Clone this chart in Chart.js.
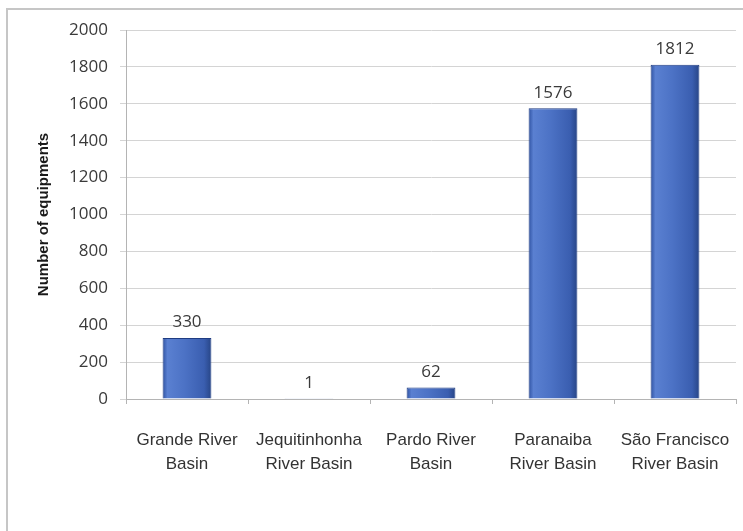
<!DOCTYPE html>
<html>
<head>
<meta charset="utf-8">
<style>
  html, body { margin: 0; padding: 0; background: #ffffff; }
  #wrap { position: relative; width: 743px; height: 531px; }
  canvas { display: block; }
</style>
<script src="https://cdn.jsdelivr.net/npm/chart.js@4.4.1/dist/chart.umd.min.js"></script>
</head>
<body>
<div id="wrap"><canvas id="c" width="743" height="531"></canvas></div>
<script>
// River basins and number of irrigation equipments in each
const basins = [
  ["Grande River", "Basin"],
  ["Jequitinhonha", "River Basin"],
  ["Pardo River", "Basin"],
  ["Paranaiba", "River Basin"],
  ["São Francisco", "River Basin"]
];
const equipments = [330, 1, 62, 1576, 1812];
const yTicks = [0, 200, 400, 600, 800, 1000, 1200, 1400, 1600, 1800, 2000];

const tickFont = { family: "'Open Sans', 'Liberation Sans', sans-serif", size: 17 };
const catFont = { family: "'Liberation Sans', Arial, sans-serif", size: 17, lineHeight: 1.42 };
const BAR_PCT = 0.4;

// Bar fill: shaded horizontally so each column looks rounded
function barFill(context) {
  const chart = context.chart;
  const xs = chart.scales && chart.scales.x;
  if (!xs || context.dataIndex === undefined || !chart.chartArea) return '#4a70c4';
  const cx = xs.getPixelForValue(context.dataIndex);
  const w = (xs.width / chart.data.labels.length) * BAR_PCT;
  const g = chart.ctx.createLinearGradient(cx - w / 2, 0, cx + w / 2, 0);
  g.addColorStop(0, '#2f52a2');
  g.addColorStop(0.1, '#5a80d1');
  g.addColorStop(0.45, '#4c72c5');
  g.addColorStop(0.85, '#3a5eb0');
  g.addColorStop(1, '#274586');
  return g;
}

// Light frame along top and left edges
const framePlugin = {
  id: 'frame',
  beforeDraw(chart) {
    const ctx = chart.ctx;
    ctx.save();
    ctx.fillStyle = '#ffffff';
    ctx.fillRect(0, 0, chart.width, chart.height);
    ctx.strokeStyle = '#c6c6c6';
    ctx.lineWidth = 2;
    ctx.beginPath();
    ctx.moveTo(7, chart.height);
    ctx.lineTo(7, 9);
    ctx.lineTo(chart.width, 9);
    ctx.stroke();
    ctx.restore();
  }
};

// Value labels above each bar
const valueLabels = {
  id: 'valueLabels',
  afterDatasetsDraw(chart) {
    const ctx = chart.ctx;
    const meta = chart.getDatasetMeta(0);
    ctx.save();
    ctx.font = `${tickFont.size}px ${tickFont.family}`;
    ctx.fillStyle = '#3a3a3a';
    ctx.textAlign = 'center';
    ctx.textBaseline = 'bottom';
    meta.data.forEach((bar, i) => {
      ctx.fillText(String(chart.data.datasets[0].data[i]), bar.x, bar.y - 7);
    });
    ctx.restore();
  }
};

new Chart(document.getElementById('c'), {
  type: 'bar',
  data: {
    labels: basins,
    datasets: [{
      data: equipments,
      backgroundColor: barFill,
      borderColor: '#1f3c82',
      borderWidth: 1,
      barPercentage: BAR_PCT,
      categoryPercentage: 1.0
    }]
  },
  options: {
    responsive: false,
    animation: false,
    devicePixelRatio: 1,
    layout: { padding: { left: 0, top: 30, right: 7, bottom: 0 } },
    plugins: {
      legend: { display: false },
      tooltip: { enabled: false }
    },
    scales: {
      x: {
        grid: {
          offset: true,
          drawOnChartArea: false,
          drawTicks: true,
          tickLength: 5,
          color: '#b4b4b4'
        },
        border: { color: '#b4b4b4', width: 1 },
        ticks: {
          color: '#333333',
          font: catFont,
          padding: 24,
          maxRotation: 0,
          autoSkip: false
        },
        afterFit(scale) {
          scale.height = 132;
          scale.paddingLeft = 0;
          scale.paddingRight = 0;
        }
      },
      y: {
        min: 0,
        max: 2000,
        afterBuildTicks(scale) { scale.ticks = yTicks.map(v => ({ value: v })); },
        grid: {
          color: '#d4d4d4',
          lineWidth: 1,
          tickLength: 6,
          drawTicks: true
        },
        border: { color: '#b4b4b4', width: 1 },
        ticks: {
          color: '#3a3a3a',
          font: tickFont,
          padding: 12,
          callback: (v) => String(v)
        },
        title: {
          display: true,
          text: 'Number of equipments',
          color: '#1a1a1a',
          font: { family: "'Liberation Sans', Arial, sans-serif", size: 15, weight: 'bold', lineHeight: 1.2 },
          padding: { top: 35, bottom: 0 }
        },
        afterFit(scale) { scale.width = 126; }
      }
    }
  },
  plugins: [framePlugin, valueLabels]
});
</script>
</body>
</html>
